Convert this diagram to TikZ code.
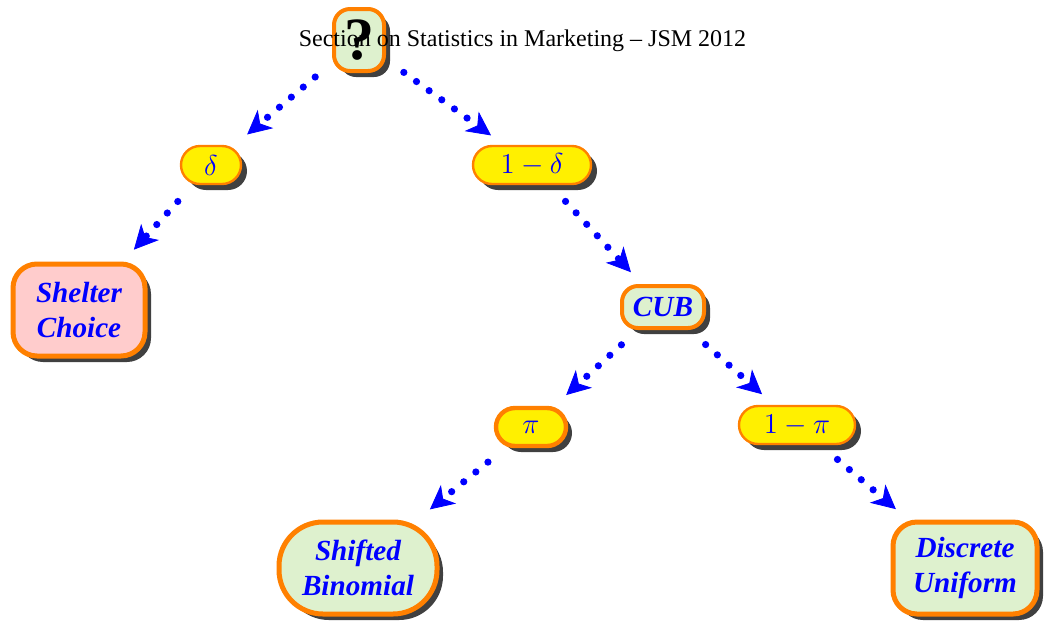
\documentclass[tikz,border=0pt]{standalone}
\usepackage[no-math]{fontspec}
\setmainfont{Liberation Serif}
\usetikzlibrary{positioning}
\usetikzlibrary{shapes,arrows.meta,shadows}

\definecolor{nodeorange}{RGB}{255,128,0}
\definecolor{probyellow}{RGB}{255,240,0}
\definecolor{leafgreen}{RGB}{222,241,206}
\definecolor{leafpink}{RGB}{255,204,204}
\definecolor{shadowgray}{RGB}{64,64,64}

\tikzset{
	boxshadow/.style={general shadow={fill=shadowgray, shadow xshift=3pt, shadow yshift=-3pt}},
	probnode/.style={boxshadow, draw=nodeorange, line width=1.2pt, fill=probyellow, text=blue, rounded corners=9.5pt, font=\Large, minimum height=19pt, inner sep=1pt},
	leafnode/.style={boxshadow, draw=nodeorange, line width=2.5pt, fill=leafgreen, text=blue, rounded corners=12pt, font=\fontsize{14.6}{17.5}\selectfont\bfseries\itshape, align=center, minimum height=46pt},
	dotarrow/.style={blue, line width=3.6pt, line cap=round, dash pattern=on 0pt off 7.8pt, shorten <=11pt, shorten >=8pt, -{Stealth[length=12pt,width=12pt,inset=3.5pt,line width=0.4pt]}},
}

\begin{document}
\begin{tikzpicture}[x=0.5pt,y=-0.5pt]
		\useasboundingbox (0,0) rectangle (1045,623);
		% root
		\node[boxshadow, draw=nodeorange, line width=2pt, fill=leafgreen, rounded corners=8pt, minimum width=25pt, minimum height=31pt, inner sep=0pt, font=\fontsize{30}{32}\selectfont\bfseries] (q) at (359,40) {?};
		\node[anchor=base, font=\fontsize{12}{14}\selectfont] (title) at (522.5,46) {Section on Statistics in Marketing -- JSM 2012};
		
		% probabilities
		\node[probnode, minimum width=30pt] (d) at (211,165) {$\delta$};
		\node[probnode, minimum width=59pt] (omd) at (532,165) {$1-\delta$};
		\node[probnode, line width=2.2pt, minimum width=35pt] (p) at (531,427) {$\pi$};
		\node[probnode, minimum width=58pt] (omp) at (797,425) {$1-\pi$};
		
		% models
		\node[leafnode, fill=leafpink, minimum width=66pt] (shelter) at (79,310) {Shelter\\Choice};
		\node[leafnode, line width=2pt, minimum width=41pt, minimum height=21pt, inner sep=2pt, rounded corners=8pt] (cub) at (663,307) {CUB};
		\node[leafnode, minimum width=79pt, rounded corners=22pt] (shifted) at (358,568) {Shifted\\Binomial};
		\node[leafnode, minimum width=72pt] (discrete) at (965,568) {Discrete\\Uniform};
		
		\draw[dotarrow] (q) -- (d);
		\draw[dotarrow] (q) -- (omd);
		\draw[dotarrow] (d) -- (shelter);
		\draw[dotarrow] (omd) -- (cub);
		\draw[dotarrow] (cub) -- (p);
		\draw[dotarrow] (cub) -- (omp);
		\draw[dotarrow] (p) -- (shifted);
		\draw[dotarrow] (omp) -- (discrete);
	\end{tikzpicture}
\end{document}
